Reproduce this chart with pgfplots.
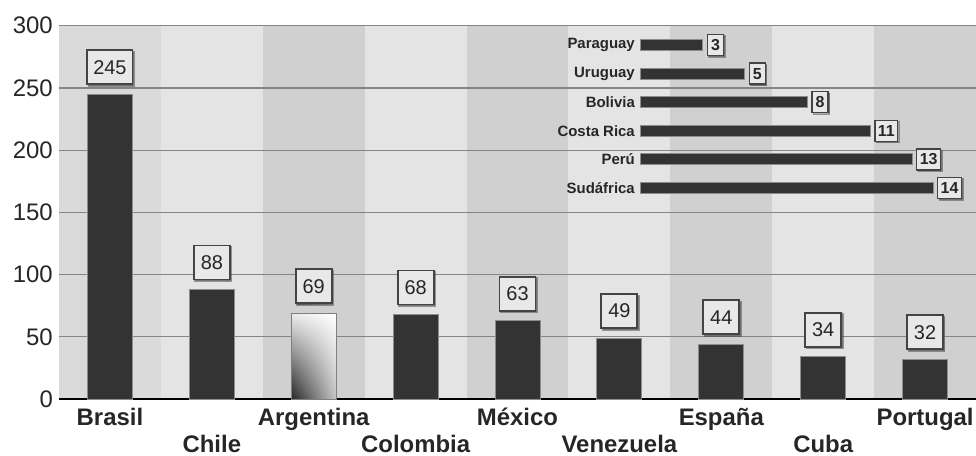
\documentclass[border=0pt]{standalone}
\usepackage{fontspec}
\setmainfont{Liberation Sans}
\usepackage{pgfplots}
\pgfplotsset{compat=1.18}
\usetikzlibrary{shadows,shadings}

\definecolor{barc}{HTML}{333333}
\definecolor{bandlight}{HTML}{E4E4E4}
\definecolor{banddark}{HTML}{D0D0D0}
\definecolor{bandmid}{HTML}{DADADA}
\definecolor{gridc}{HTML}{858585}
\definecolor{boxfill}{HTML}{E8E8E8}
\definecolor{boxline}{HTML}{444444}

\tikzset{
  valbox/.style={draw=boxline, fill=boxfill, text=black!85,
    drop shadow={shadow xshift=1.5bp, shadow yshift=-1.5bp, fill=black!55}},
}
\pgfplotsset{/pgf/number format/assume math mode=true}

\begin{document}
\begin{tikzpicture}
% main chart
\begin{axis}[
  set layers,
  at={(0,0)}, anchor=south west,
  scale only axis, width=917bp, height=373.3bp,
  xmin=-0.5, xmax=8.5, ymin=0, ymax=300,
  axis background/.style={fill=bandlight},
  axis x line*=bottom, axis y line*=left,
  x axis line style={black, line width=2.5bp, -},
  y axis line style={draw=none},
  ymajorgrids, grid style={gridc, line width=1.2bp},
  ytick={0,50,...,300},
  xtick={0,2,4,6,8},
  xticklabels={Brasil,Argentina,México,España,Portugal},
  extra x ticks={1,3,5,7},
  extra x tick labels={Chile,Colombia,Venezuela,Cuba},
  extra x tick style={xticklabel style={yshift=-27bp}},
  major tick length=0pt,
  yticklabel style={font=\fontsize{24}{24}\selectfont, text=black!85,
    anchor=east, inner sep=0pt, xshift=-6bp},
  xticklabel style={font=\fontsize{24}{24}\selectfont\bfseries, text=black!85,
    anchor=base, inner sep=0pt, yshift=-26bp},
  clip=false,
]
\begin{pgfonlayer}{axis background}
  \fill[bandmid]  (axis cs:-0.5,0) rectangle (axis cs:0.5,300);
  \fill[banddark] (axis cs:1.5,0) rectangle (axis cs:2.5,300);
  \fill[banddark] (axis cs:3.5,0) rectangle (axis cs:4.5,300);
  \fill[banddark] (axis cs:5.5,0) rectangle (axis cs:6.5,300);
  \fill[banddark] (axis cs:7.5,0) rectangle (axis cs:8.5,300);
\end{pgfonlayer}

\addplot[ybar, bar width=45bp, bar shift=0pt, fill=barc, draw=black!45, line width=1bp,
  nodes near coords,
  every node near coord/.append style={valbox, line width=1.8bp,
    font=\fontsize{20}{20}\selectfont, anchor=south, yshift=9bp,
    inner xsep=6bp, minimum height=34bp, minimum width=36bp}]
  coordinates {(0,245) (1,88) (3,68) (4,63) (5,49) (6,44) (7,34) (8,32)};

\addplot[ybar, bar width=45bp, bar shift=0pt, draw=gray, line width=1bp,
  lower left=black!85, lower right=gray!45, upper left=gray!15, upper right=white,
  nodes near coords,
  every node near coord/.append style={valbox, line width=1.8bp,
    font=\fontsize{20}{20}\selectfont, anchor=south, yshift=9bp,
    inner xsep=6bp, minimum height=34bp, minimum width=36bp}]
  coordinates {(2,69)};
\end{axis}

% inset chart
\begin{axis}[
  at={(581bp,196.7bp)}, anchor=south west,
  scale only axis, width=314bp, height=171.6bp,
  xmin=0, xmax=15, ymin=-0.5, ymax=5.5,
  axis line style={draw=none},
  xtick=\empty, ytick={0,...,5},
  yticklabels={Sudáfrica,Perú,Costa Rica,Bolivia,Uruguay,Paraguay},
  major tick length=0pt,
  yticklabel style={font=\fontsize{15}{15}\selectfont\bfseries, text=black!85,
    anchor=east, inner sep=0pt, xshift=-5bp},
  clip=false,
]
\addplot[xbar, bar width=11bp, bar shift=0pt, fill=barc, draw=black!45, line width=0.8bp,
  point meta=x, nodes near coords,
  every node near coord/.append style={valbox, line width=1.3bp,
    font=\fontsize{16}{16}\selectfont\bfseries, anchor=west, xshift=4bp,
    inner xsep=3bp, minimum height=21bp, minimum width=16bp}]
  coordinates {(14,0) (13,1) (11,2) (8,3) (5,4) (3,5)};
\end{axis}

\pgfresetboundingbox
\path[use as bounding box] (-59bp,-57bp) rectangle (917bp,399bp);
\end{tikzpicture}
\end{document}
